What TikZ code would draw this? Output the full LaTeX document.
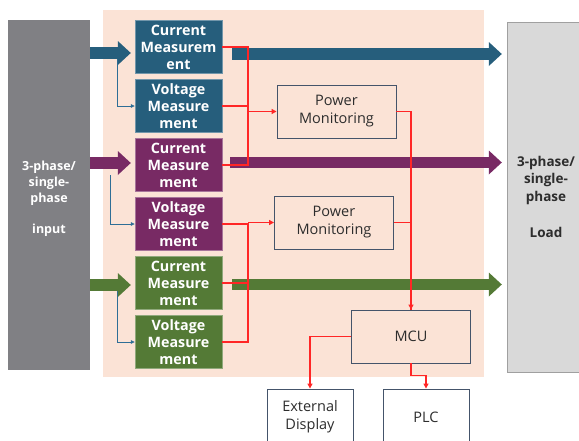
\documentclass[tikz,border=0pt]{standalone}
\usepackage{fontspec}
\setmainfont{Open Sans}
\usetikzlibrary{arrows.meta}
\definecolor{inputgrey}{RGB}{128,128,132}
\definecolor{loadgrey}{RGB}{217,217,217}
\definecolor{loadedge}{RGB}{160,160,160}
\definecolor{peach}{RGB}{251,227,214}
\definecolor{phaseblue}{RGB}{38,94,124}
\definecolor{phasepurple}{RGB}{120,42,100}
\definecolor{phasegreen}{RGB}{84,122,54}
\definecolor{sigred}{RGB}{255,38,38}
\definecolor{tapblue}{RGB}{46,110,150}
\definecolor{edgegrey}{RGB}{68,84,106}
\definecolor{textgrey}{RGB}{45,45,45}
\tikzset{
    meas/.style={draw=#1!65!white, fill=#1, text=white, minimum width=87pt, minimum height=53pt, inner sep=0pt, align=center, font=\fontsize{14.3}{17}\selectfont\bfseries},
    block/.style={draw=edgegrey, line width=0.9pt, minimum width=119pt, minimum height=53pt, inner sep=0pt, align=center, text=textgrey, font=\fontsize{14.5}{18}\selectfont},
    outbox/.style={block, fill=white, minimum width=86pt, minimum height=56pt},
    fat/.style={draw=#1, line width=11.5pt, -{Triangle[length=13pt,width=24pt,line width=0pt 0]}},
    sig/.style={draw=sigred, line width=1.2pt},
    sigarrow/.style={sig, -{Triangle[length=5pt,width=5pt]}},
    tap/.style={draw=tapblue, line width=0.7pt, -{Triangle[length=4pt,width=3.5pt]}}
}

\begin{document}
\begin{tikzpicture}[x=1pt, y=-1pt, node distance=59pt]
\useasboundingbox (0,0) rectangle (579,440);
\fill[peach] (103,10) rectangle (484,377);

\node[fill=inputgrey, minimum width=82pt, minimum height=350pt] (inp) at (49,195) {};
\node[text=white, align=center, font=\fontsize{12.5}{16}\selectfont\bfseries] (inptext) at (49,199) {3-phase/\\single-\\phase\\[15pt]input};
\node[fill=loadgrey, draw=loadedge, minimum width=78pt, minimum height=350pt, text=textgrey, align=center, font=\fontsize{13.5}{17.5}\selectfont\bfseries] (load) at (546,197) {3-phase/\\single-\\phase\\[19pt]Load};

\node[meas=phaseblue] (curA) at (178.5,47) {Current\\Measurem\\ent};
\node[meas=phaseblue, below of=curA] (volA) {Voltage\\Measure\\ment};
\node[meas=phasepurple, below of=volA] (curB) {Current\\Measure\\ment};
\node[meas=phasepurple, below of=curB] (volB) {Voltage\\Measure\\ment};
\node[meas=phasegreen, below of=volB] (curC) {Current\\Measure\\ment};
\node[meas=phasegreen, below of=curC] (volC) {Voltage\\Measure\\ment};

\node[block] (pmA) at (336.5,111.5) {Power\\Monitoring};
\node[block] (pmB) at (334,222.5) {Power\\Monitoring};
\node[block] (mcu) at (411,336.5) {MCU};
\node[outbox] (ext) at (310,417) {External\\Display};
\node[outbox] (plc) at (426,417) {PLC};

% taps to the voltage side
\coordinate (tapA) at (117,59);
\coordinate (tapB) at (110,175);
\coordinate (tapC) at (117,290);
\draw[tap] (tapA) |- (volA.west);
\draw[tap] (tapB) |- (volB.west);
\draw[tap] (tapC) |- (volC.west);

% phase lines
\draw[fat=phaseblue, shorten >=4pt] (inp.east |- 0,53) -- (curA.west |- 0,53);
\draw[fat=phasepurple, shorten >=4pt] (inp.east |- 0,163) -- (curB.west |- 0,163);
\draw[fat=phasegreen, shorten >=4pt] (inp.east |- 0,285) -- (curC.west |- 0,285);
\draw[fat=phaseblue, shorten <=10pt, shorten >=5pt] (curA.east |- 0,54) -- (load.west |- 0,54);
\draw[fat=phasepurple, shorten <=8pt, shorten >=5pt] (curB.east |- 0,162.5) -- (load.west |- 0,162.5);
\draw[fat=phasegreen, shorten <=10pt, shorten >=5pt] (curC.east |- 0,284.5) -- (load.west |- 0,284.5);

% measurement signals
\coordinate (jA) at (248,111.5);
\coordinate (jB) at (248,222.5);
\draw[sig] (curA.east) -| (jA);
\draw[sig] (volA.east) -| (jA);
\draw[sig] (curB.east) -| (jA);
\draw[sigarrow] (jA) -- (pmA.west);
\draw[sig] (volB.east) -| (jB);
\draw[sig] (curC.east) -| (jB);
\draw[sig] (volC.east) -| (jB);
\draw[sigarrow] (jB) -- (pmB.west);
\draw[sigarrow] (pmA.east) -| (mcu.north);
\draw[sig] (pmB.east) -| (mcu.north);
\draw[sigarrow] (mcu.west) -| (ext.north);
\draw[sigarrow] (mcu.south) -- ++(0,12) -| (plc.north);
\end{tikzpicture}
\end{document}
